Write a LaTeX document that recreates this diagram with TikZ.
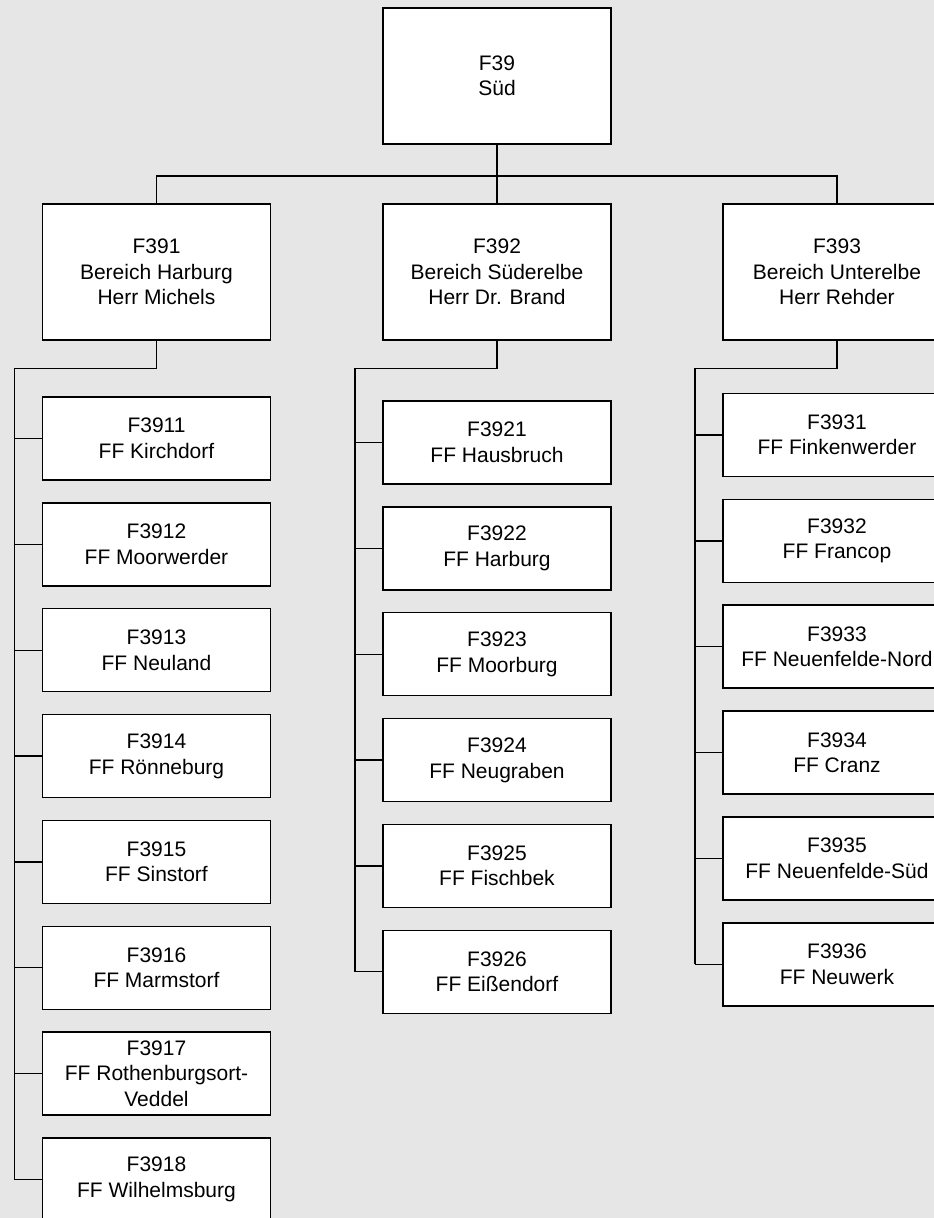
\documentclass[tikz,border=0pt]{standalone}
\usepackage{fontspec}
\setmainfont{Liberation Sans}
\begin{document}
\begin{tikzpicture}[x=1pt,y=-1pt,
  box/.style={draw=black, fill=white, line width=1.5pt, inner sep=0pt, outer sep=0pt,
    minimum width=228pt, align=center,
    font=\fontsize{21}{25.5}\selectfont},
  bigbox/.style={box, minimum height=136pt},
  smallbox/.style={box, minimum height=83pt},
  conn/.style={line width=1.3pt, line join=miter}]
\useasboundingbox (0,0) rectangle (934,1218);
\fill[fill={rgb,255:red,230;green,230;blue,230}] (0,0) rectangle (934,1218);
\clip (0,0) rectangle (934,1218);

% top
\node[bigbox] (top) at (497,76) {F39\\Süd};
% level 2
\node[bigbox] (f391) at (156.5,272) {F391\\Bereich Harburg\\Herr Michels};
\node[bigbox] (f392) at (497,272) {F392\\Bereich Süderelbe\\Herr Dr. Brand};
\node[bigbox] (f393) at (837,272) {F393\\Bereich Unterelbe\\Herr Rehder};

% column 1
\node[smallbox] (n3911) at (156.5,438.5) {F3911\\FF Kirchdorf};
\node[smallbox] (n3912) at (156.5,544.4) {F3912\\FF Moorwerder};
\node[smallbox] (n3913) at (156.5,650.2) {F3913\\FF Neuland};
\node[smallbox] (n3914) at (156.5,756.1) {F3914\\FF Rönneburg};
\node[smallbox] (n3915) at (156.5,861.9) {F3915\\FF Sinstorf};
\node[smallbox] (n3916) at (156.5,967.8) {F3916\\FF Marmstorf};
\node[smallbox] (n3917) at (156.5,1073.6) {F3917\\FF Rothenburgsort-\\Veddel};
\node[smallbox] (n3918) at (156.5,1179.5) {F3918\\FF Wilhelmsburg};

% column 2
\node[smallbox] (n3921) at (497,442.5) {F3921\\FF Hausbruch};
\node[smallbox] (n3922) at (497,548.4) {F3922\\FF Harburg};
\node[smallbox] (n3923) at (497,654.2) {F3923\\FF Moorburg};
\node[smallbox] (n3924) at (497,760.1) {F3924\\FF Neugraben};
\node[smallbox] (n3925) at (497,865.9) {F3925\\FF Fischbek};
\node[smallbox] (n3926) at (497,971.8) {F3926\\FF Eißendorf};

% column 3
\node[smallbox] (n3931) at (837,435) {F3931\\FF Finkenwerder};
\node[smallbox] (n3932) at (837,540.9) {F3932\\FF Francop};
\node[smallbox] (n3933) at (837,646.7) {F3933\\FF Neuenfelde-Nord};
\node[smallbox] (n3934) at (837,752.6) {F3934\\FF Cranz};
\node[smallbox] (n3935) at (837,858.4) {F3935\\FF Neuenfelde-Süd};
\node[smallbox] (n3936) at (837,964.3) {F3936\\FF Neuwerk};

% top connectors
\coordinate (bus) at (0,176);
\draw[conn] (top.south) -- (f392.north);
\draw[conn] (f391.north) -- (f391.north |- bus) -- (f393.north |- bus) -- (f393.north);

% column buses
\coordinate (b1) at (14.5,368.5);
\coordinate (b2) at (355,368.5);
\coordinate (b3) at (695,368.5);
\draw[conn] (f391.south) -- (f391.south |- b1) -- (b1) -- (b1 |- n3918.west);
\draw[conn] (f392.south) -- (f392.south |- b2) -- (b2) -- (b2 |- n3926.west);
\draw[conn] (f393.south) -- (f393.south |- b3) -- (b3) -- (b3 |- n3936.west);

\foreach \n in {n3911,n3912,n3913,n3914,n3915,n3916,n3917,n3918}
  \draw[conn] (b1 |- \n.west) -- (\n.west);
\foreach \n in {n3921,n3922,n3923,n3924,n3925,n3926}
  \draw[conn] (b2 |- \n.west) -- (\n.west);
\foreach \n in {n3931,n3932,n3933,n3934,n3935,n3936}
  \draw[conn] (b3 |- \n.west) -- (\n.west);
\end{tikzpicture}
\end{document}
